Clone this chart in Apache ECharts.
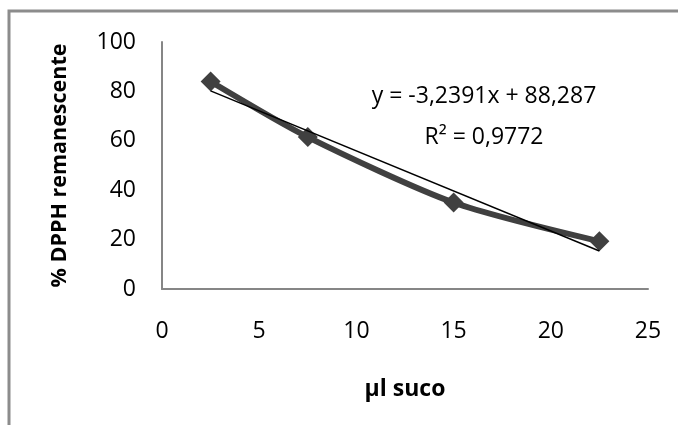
<!DOCTYPE html>
<html>
<head>
<meta charset="utf-8">
<script src="https://cdn.jsdelivr.net/npm/echarts@6/dist/echarts.min.js"></script>
<style>
  html, body { margin: 0; padding: 0; background: #ffffff; }
  #chart { width: 678px; height: 425px; }
</style>
</head>
<body>
<div id="chart"></div>
<script>
// Data
const xValues = [2.5, 7.5, 15, 22.5];
const dpphValues = [84, 61.5, 35, 19.3];
const trendX = [2.5, 22.5];
const trendY = [80.2, 15.4];
const equationLines = ['y = -3,2391x + 88,287', 'R² = 0,9772'];
const xAxisTitle = 'µl suco';
const yAxisTitle = '% DPPH remanescente';

const FONT = '"Open Sans", Lato, sans-serif';

const chart = echarts.init(document.getElementById('chart'), null, { renderer: 'canvas' });

const option = {
  animation: false,
  backgroundColor: '#ffffff',
  grid: { left: 162, top: 42, right: 30, bottom: 136, containLabel: false },
  xAxis: {
    type: 'value',
    min: 0, max: 25, interval: 5,
    name: xAxisTitle,
    nameLocation: 'middle',
    nameGap: 89,
    nameTextStyle: { fontFamily: FONT, fontSize: 23, fontWeight: 'bold', color: '#000' },
    axisLine: { show: true, onZero: false, lineStyle: { color: '#868686', width: 2 } },
    axisTick: { show: false },
    splitLine: { show: false },
    axisLabel: { fontFamily: FONT, fontSize: 23, color: '#000', margin: 31 }
  },
  yAxis: {
    type: 'value',
    min: 0, max: 100, interval: 20,
    name: yAxisTitle,
    nameLocation: 'middle',
    nameGap: 91,
    nameTextStyle: { fontFamily: FONT, fontSize: 21.5, fontWeight: 'bold', color: '#000' },
    axisLine: { show: true, lineStyle: { color: '#868686', width: 2 } },
    axisTick: { show: false },
    splitLine: { show: false },
    axisLabel: { fontFamily: FONT, fontSize: 23, color: '#000', margin: 26 }
  },
  series: [
    {
      name: 'DPPH',
      type: 'line',
      data: xValues.map((x, i) => [x, dpphValues[i]]),
      smooth: 0.25,
      symbol: 'diamond',
      symbolSize: 20,
      lineStyle: { color: '#404040', width: 6 },
      itemStyle: { color: '#404040' },
      z: 2
    },
    {
      name: 'Linear',
      type: 'line',
      data: trendX.map((x, i) => [x, trendY[i]]),
      symbol: 'none',
      lineStyle: { color: '#000000', width: 1.5 },
      z: 3
    }
  ],
  graphic: [
    {
      type: 'polyline',
      shape: { points: [[9, 425], [9, 11], [678, 11]] },
      style: { stroke: '#8c8c8c', lineWidth: 3, fill: null }
    },
    {
      type: 'text',
      x: 484, y: 96,
      style: {
        text: equationLines[0],
        fontFamily: FONT, fontSize: 23, fill: '#000',
        textAlign: 'center', textVerticalAlign: 'middle'
      }
    },
    {
      type: 'text',
      x: 484, y: 137,
      style: {
        text: equationLines[1],
        fontFamily: FONT, fontSize: 23, fill: '#000',
        textAlign: 'center', textVerticalAlign: 'middle'
      }
    }
  ]
};

chart.setOption(option);
</script>
</body>
</html>
